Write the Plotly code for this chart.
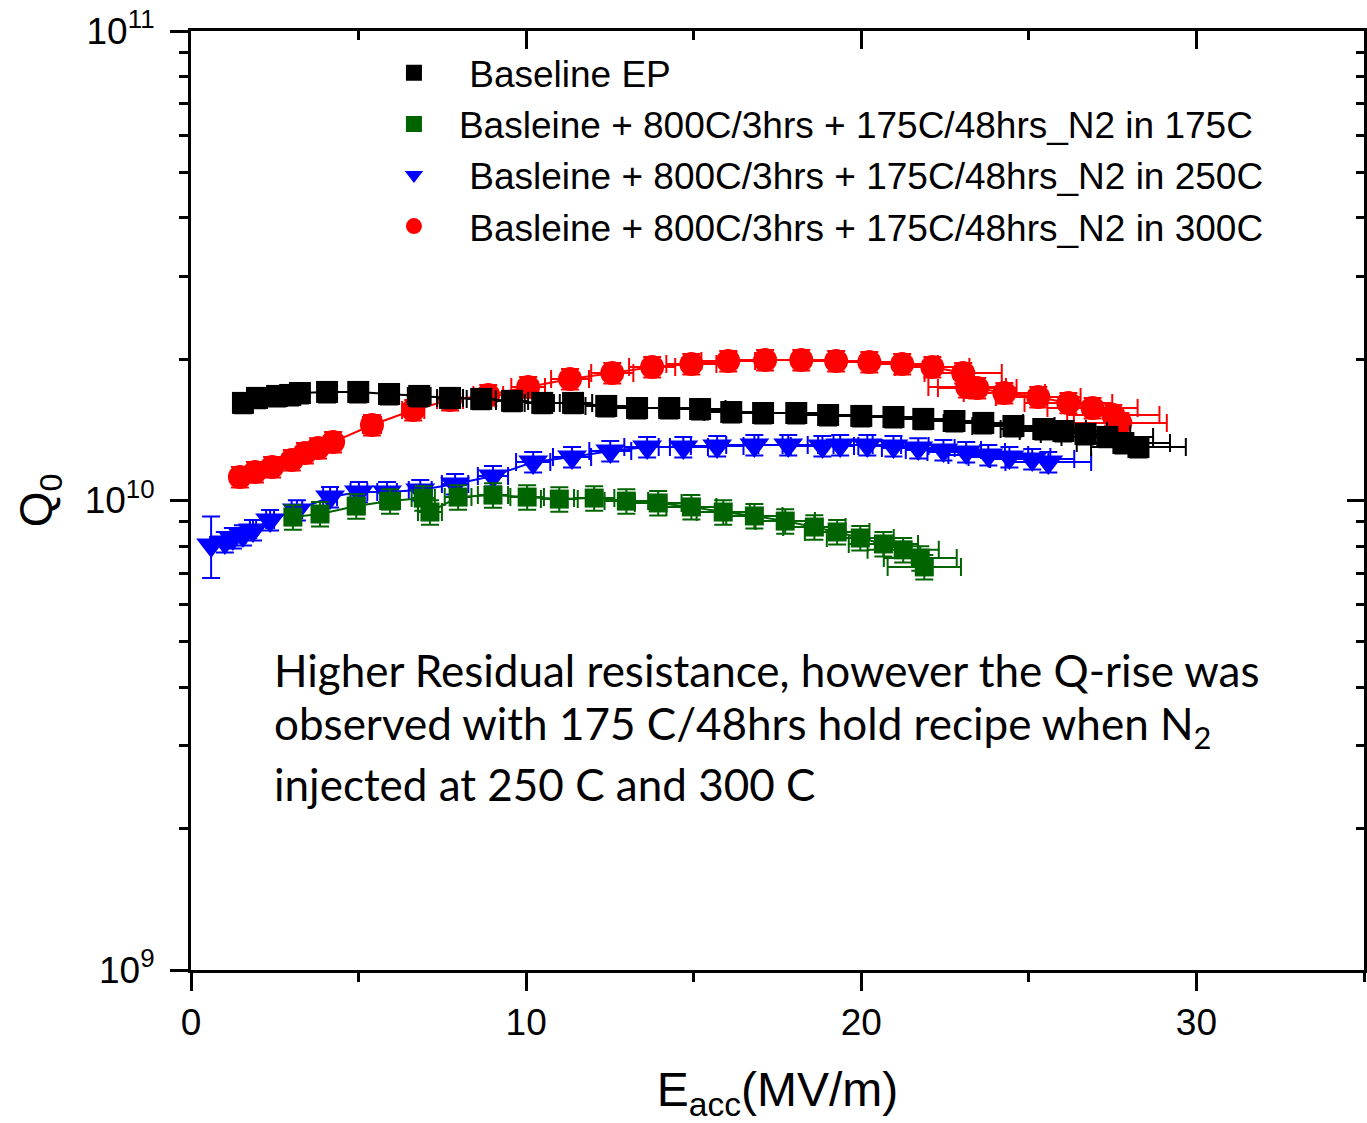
import plotly.graph_objects as go

# Q0 vs accelerating gradient for the four cavity treatments
eacc_base = [1.55, 1.97, 2.57, 2.96, 3.25, 4.06, 4.99, 5.91, 6.81, 7.73, 8.66, 9.58,
             10.48, 11.40, 12.39, 13.31, 14.27, 15.19, 16.12, 17.07, 18.06, 19.01,
             20.00, 20.96, 21.85, 22.78, 23.64, 24.54, 25.43, 26.03, 26.69, 27.34,
             27.82, 28.27]
q0_base = [1.614e10, 1.654e10, 1.670e10, 1.678e10, 1.694e10, 1.703e10, 1.703e10,
           1.686e10, 1.670e10, 1.654e10, 1.646e10, 1.630e10, 1.614e10, 1.614e10,
           1.590e10, 1.574e10, 1.574e10, 1.566e10, 1.543e10, 1.536e10, 1.536e10,
           1.521e10, 1.514e10, 1.506e10, 1.492e10, 1.477e10, 1.463e10, 1.441e10,
           1.420e10, 1.406e10, 1.386e10, 1.366e10, 1.326e10, 1.300e10]

eacc_175 = [3.04, 3.85, 4.93, 5.94, 6.93, 7.13, 7.97, 9.01, 10.03, 10.99, 12.03,
            12.99, 13.94, 14.93, 15.88, 16.81, 17.73, 18.60, 19.28, 19.97, 20.66,
            21.25, 21.76, 21.88]
q0_175 = [9.22e9, 9.36e9, 9.73e9, 9.97e9, 1.012e10, 9.45e9, 1.017e10, 1.027e10,
          1.017e10, 1.007e10, 1.012e10, 9.97e9, 9.88e9, 9.69e9, 9.45e9, 9.27e9,
          9.04e9, 8.78e9, 8.57e9, 8.32e9, 8.08e9, 7.85e9, 7.54e9, 7.22e9]

eacc_250 = [0.60, 1.01, 1.25, 1.55, 1.85, 2.36, 3.16, 4.15, 5.01, 5.85, 6.84, 7.88,
            9.01, 10.21, 11.37, 12.51, 13.61, 14.69, 15.70, 16.81, 17.82, 18.84,
            19.37, 20.18, 20.96, 21.70, 22.45, 23.13, 23.79, 24.42, 25.10, 25.58]
q0_250 = [8.04e9, 8.16e9, 8.32e9, 8.44e9, 8.65e9, 9.09e9, 9.54e9, 1.017e10,
          1.043e10, 1.043e10, 1.053e10, 1.084e10, 1.128e10, 1.208e10, 1.238e10,
          1.275e10, 1.300e10, 1.300e10, 1.306e10, 1.313e10, 1.313e10, 1.306e10,
          1.313e10, 1.313e10, 1.306e10, 1.293e10, 1.281e10, 1.269e10, 1.250e10,
          1.238e10, 1.226e10, 1.208e10]
q0_250_err_pct = [15, 5, 5, 5, 5, 5, 5, 5, 5, 5, 5, 5, 5, 5, 5, 5, 5, 5, 5, 5, 5,
                  5, 5, 5, 5, 5, 5, 5, 5, 5, 5, 5]

eacc_300 = [1.46, 1.91, 2.42, 3.01, 3.40, 3.79, 4.24, 5.40, 6.63, 7.73, 8.87, 10.06,
            11.31, 12.57, 13.76, 14.93, 16.03, 17.13, 18.21, 19.25, 20.24, 21.22,
            22.12, 23.04, 23.16, 23.46, 24.27, 25.28, 26.18, 26.90, 27.52, 27.73]
q0_300 = [1.122e10, 1.150e10, 1.179e10, 1.220e10, 1.262e10, 1.293e10, 1.332e10,
          1.448e10, 1.559e10, 1.637e10, 1.678e10, 1.745e10, 1.814e10, 1.869e10,
          1.925e10, 1.953e10, 1.982e10, 1.992e10, 1.992e10, 1.982e10, 1.972e10,
          1.953e10, 1.925e10, 1.869e10, 1.745e10, 1.736e10, 1.694e10, 1.661e10,
          1.614e10, 1.574e10, 1.521e10, 1.463e10]

names = [" Baseline EP",
         "Basleine + 800C/3hrs + 175C/48hrs_N2 in 175C",
         " Basleine + 800C/3hrs + 175C/48hrs_N2 in 250C",
         " Basleine + 800C/3hrs + 175C/48hrs_N2 in 300C"]

x_ticks = [0, 10, 20, 30]
y_ticks = [1e9, 1e10, 1e11]
y_ticktext = ["10<sup>9</sup>", "10<sup>10</sup>", "10<sup>11</sup>"]
y_minor = [m * 10 ** e for e in (9, 10) for m in range(2, 10)]

FONT = "Liberation Sans"

fig = go.Figure()


def add_series(x, y, name, color, symbol, size, yerr_pct=5, yerr_arr=None):
    # connecting line (no legend entry) under the symbols
    fig.add_trace(go.Scatter(x=x, y=y, mode="lines", showlegend=False,
                             line=dict(color=color, width=2), hoverinfo="skip"))
    if yerr_arr is None:
        ey = dict(type="percent", value=yerr_pct, color=color, thickness=2, width=9)
    else:
        ey = dict(type="data", array=[v * p / 100 for v, p in zip(y, yerr_arr)],
                  color=color, thickness=2, width=9)
    fig.add_trace(go.Scatter(
        x=x, y=y, mode="markers", name=name,
        marker=dict(color=color, symbol=symbol, size=size, line=dict(width=0)),
        error_x=dict(type="percent", value=5, color=color, thickness=2, width=9),
        error_y=ey))


# drawing order: red at the bottom, black on top
add_series(eacc_300, q0_300, names[3], "#ff0000", "circle", 24)
add_series(eacc_250, q0_250, names[2], "#0000ff", "triangle-down", 26,
           yerr_arr=q0_250_err_pct)
add_series(eacc_175, q0_175, names[1], "#006400", "square", 19, yerr_pct=6)
add_series(eacc_base, q0_base, names[0], "#000000", "square", 22)

# the top and right frame axes carry inward ticks; an invisible copy of the
# baseline curve binds them so they are drawn
fig.add_trace(go.Scatter(x=eacc_base, y=q0_base, xaxis="x2", yaxis="y2",
                         mode="lines", line=dict(width=0), opacity=0,
                         showlegend=False, hoverinfo="skip"))

axis_common = dict(showline=True, linewidth=3, linecolor="black", showgrid=False,
                   zeroline=False, tickwidth=3, tickcolor="black")

fig.update_layout(
    width=1367, height=1123,
    margin=dict(l=191, r=3, t=31, b=153, pad=0),
    paper_bgcolor="white", plot_bgcolor="white",
    font=dict(family=FONT, color="black"),
    xaxis=dict(range=[0, 35], tickvals=x_ticks, ticks="outside", ticklen=18,
               tickfont=dict(size=37, family=FONT),
               minor=dict(dtick=5, tick0=0, ticks="outside", ticklen=9,
                          tickwidth=3, tickcolor="black"),
               title=dict(text="E<sub>acc</sub>(MV/m)", font=dict(size=48, family=FONT),
                          standoff=35),
               **axis_common),
    yaxis=dict(type="log", range=[9, 11], tickvals=y_ticks, ticktext=y_ticktext,
               ticks="outside", ticklen=18, ticklabelstandoff=8,
               tickfont=dict(size=37, family=FONT),
               minor=dict(tickvals=y_minor, ticks="outside", ticklen=9,
                          tickwidth=3, tickcolor="black"),
               title=dict(text="Q<sub>0</sub>", font=dict(size=46, family=FONT),
                          standoff=18),
               **axis_common),
    xaxis2=dict(overlaying="x", anchor="y", side="top", range=[0, 35],
                tickvals=x_ticks, ticks="inside", ticklen=18, showticklabels=False,
                minor=dict(dtick=5, tick0=0, ticks="inside", ticklen=9,
                           tickwidth=3, tickcolor="black"),
                **axis_common),
    yaxis2=dict(overlaying="y", anchor="x", side="right", type="log", range=[9, 11],
                tickvals=y_ticks, ticks="inside", ticklen=17, showticklabels=False,
                minor=dict(tickvals=y_minor, ticks="inside", ticklen=8,
                           tickwidth=3, tickcolor="black"),
                **axis_common),
    legend=dict(x=0.1517, y=0.988, xanchor="left", yanchor="top",
                traceorder="reversed", bgcolor="rgba(0,0,0,0)",
                font=dict(size=37, family=FONT), itemwidth=80),
    showlegend=True,
)

note_lines = ["Higher Residual resistance, however the Q-rise was",
              "observed with 175 C/48hrs hold recipe when N<sub>2</sub>",
              "injected at 250 C and 300 C"]
note_y = [0.3195, 0.2588, 0.1981]
for txt, yy in zip(note_lines, note_y):
    fig.add_annotation(text=txt, xref="paper", yref="paper", x=0.069, y=yy,
                       xanchor="left", yanchor="middle", showarrow=False,
                       font=dict(family="Lato", size=44, color="black"))

fig.write_html("out.html")
